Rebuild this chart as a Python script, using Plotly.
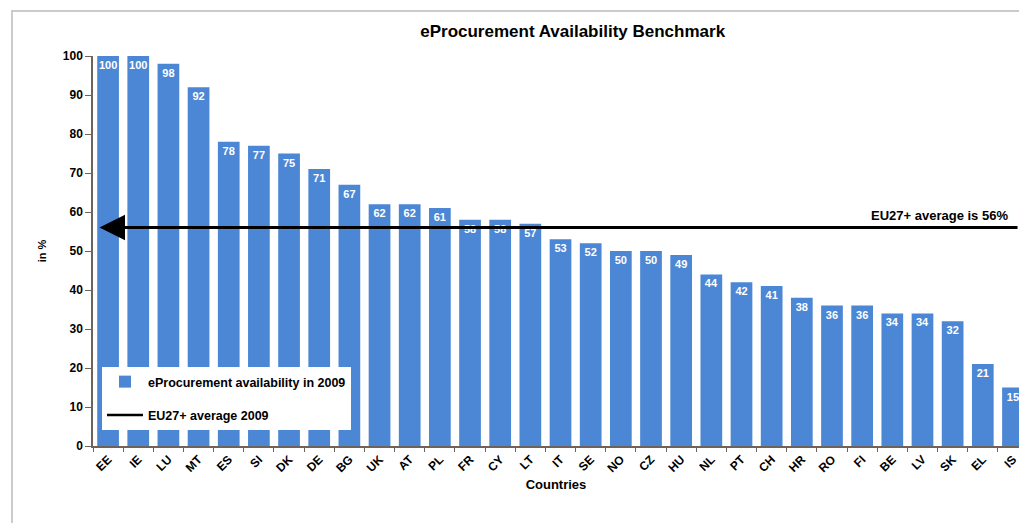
import plotly.graph_objects as go

# eProcurement availability per country, 2009 (in %)
countries = ["EE", "IE", "LU", "MT", "ES", "SI", "DK", "DE", "BG", "UK", "AT",
             "PL", "FR", "CY", "LT", "IT", "SE", "NO", "CZ", "HU", "NL", "PT",
             "CH", "HR", "RO", "FI", "BE", "LV", "SK", "EL", "IS"]
availability = [100, 100, 98, 92, 78, 77, 75, 71, 67, 62, 62,
                61, 58, 58, 57, 53, 52, 50, 50, 49, 44, 42,
                41, 38, 36, 36, 34, 34, 32, 21, 15]
eu_average = 56

y_ticks = [0, 10, 20, 30, 40, 50, 60, 70, 80, 90, 100]

BAR = "#4C87D5"
AXIS = "#6e6259"
FONT = "Liberation Sans, Arial, sans-serif"

fig = go.Figure()

fig.add_trace(go.Bar(
    x=countries,
    y=availability,
    width=0.72,
    marker=dict(color=BAR, line=dict(width=0)),
    text=[str(v) for v in availability],
    textposition="inside",
    insidetextanchor="end",
    constraintext="none",
    textangle=0,
    textfont=dict(family=FONT, size=11, color="white", weight="bold"),
    name="eProcurement availability in 2009",
    legendgroup="a",
))

# legend entry for the average line (the line itself is drawn as an arrow)
fig.add_trace(go.Scatter(
    x=[None], y=[None],
    mode="lines",
    line=dict(color="black", width=2.5),
    name="EU27+ average 2009",
    legendgroup="b",
))

# average arrow, pointing left toward the axis
fig.add_annotation(
    x=0.007, xref="paper",
    y=eu_average, yref="y",
    ax=930, axref="pixel",
    ay=0, ayref="pixel",
    text="",
    showarrow=True,
    arrowhead=2,
    arrowsize=1.7,
    arrowwidth=3,
    arrowcolor="black",
)
fig.add_annotation(
    x=0.99, xref="paper",
    y=eu_average, yref="y",
    text="EU27+ average is 56%",
    showarrow=False,
    xanchor="right", yanchor="bottom",
    yshift=3,
    font=dict(family=FONT, size=13, color="black", weight="bold"),
)

# outer frame
fig.add_shape(
    type="rect", xref="paper", yref="paper",
    x0=-0.0875, x1=1.2, y0=-0.4, y1=1.1154,
    line=dict(color="#c9cbcd", width=2),
    fillcolor="rgba(0,0,0,0)",
    layer="below",
)

fig.update_layout(
    width=1019, height=523,
    margin=dict(l=93, r=0, t=56, b=77),
    paper_bgcolor="white",
    plot_bgcolor="white",
    font=dict(family=FONT, color="black"),
    title=dict(
        text="eProcurement Availability Benchmark",
        xref="paper", x=0.518, xanchor="center",
        yref="container", y=0.94, yanchor="middle",
        font=dict(family=FONT, size=17, color="black", weight="bold"),
    ),
    showlegend=True,
    legend=dict(
        x=0.0097, y=0.041, xanchor="left", yanchor="bottom",
        bgcolor="white", borderwidth=0,
        traceorder="grouped", tracegroupgap=14,
        font=dict(family=FONT, size=12.5, color="black", weight="bold"),
        itemwidth=36,
    ),
)

fig.update_xaxes(
    type="category",
    range=[-0.5, 30.2],
    showline=True, linecolor=AXIS, linewidth=1.5,
    ticks="outside", tickson="boundaries", ticklen=4, tickcolor=AXIS,
    tickangle=-45,
    tickfont=dict(family=FONT, size=12, color="black", weight="bold"),
    showgrid=False,
    title=dict(text="Countries", standoff=6,
               font=dict(family=FONT, size=13, color="black", weight="bold")),
)
fig.update_yaxes(
    range=[0, 100],
    tickvals=y_ticks,
    showline=True, linecolor=AXIS, linewidth=1.5,
    ticks="outside", ticklen=6, tickcolor=AXIS,
    tickfont=dict(family=FONT, size=12, color="black", weight="bold"),
    showgrid=False, zeroline=False,
    title=dict(text="in %", standoff=14,
               font=dict(family=FONT, size=11, color="black", weight="bold")),
)

fig.write_html("out.html")
